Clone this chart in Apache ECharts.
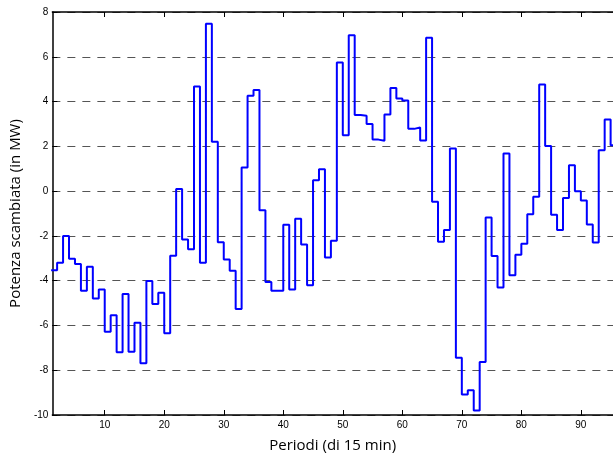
<!DOCTYPE html>
<html>
<head>
<meta charset="utf-8">
<script src="https://cdn.jsdelivr.net/npm/echarts@6/dist/echarts.min.js"></script>
<style>
html,body{margin:0;padding:0;background:#fff;}
#chart{width:613px;height:458px;}
</style>
</head>
<body>
<div id="chart"></div>
<script>
// Potenza scambiata per periodo (step i covers [i, i+1])
const periods = [1,2,3,4,5,6,7,8,9,10,11,12,13,14,15,16,17,18,19,20,21,22,23,24,25,26,27,28,29,30,31,32,33,34,35,36,37,38,39,40,41,42,43,44,45,46,47,48,49,50,51,52,53,54,55,56,57,58,59,60,61,62,63,64,65,66,67,68,69,70,71,72,73,74,75,76,77,78,79,80,81,82,83,84,85,86,87,88,89,90,91,92,93,94,95];
const power = [-3.53,-3.2,-2.0,-3.02,-3.26,-4.45,-3.38,-4.8,-4.39,-6.28,
  -5.55,-7.2,-4.6,-7.17,-5.88,-7.69,-4.02,-5.04,-4.54,-6.35,
  -2.89,0.09,-2.16,-2.6,4.67,-3.2,7.47,2.2,-2.28,-3.05,
  -3.56,-5.27,1.06,4.26,4.52,-0.85,-4.06,-4.45,-4.45,-1.5,
  -4.4,-1.24,-2.38,-4.21,0.48,0.98,-2.96,-2.22,5.74,2.49,
  6.96,3.4,3.37,3.0,2.3,2.25,3.42,4.6,4.14,4.05,
  2.78,2.84,2.26,6.85,-0.48,-2.26,-1.74,1.9,-7.44,-9.08,
  -8.9,-9.8,-7.63,-1.18,-2.9,-4.3,1.68,-3.76,-2.84,-2.35,
  -1.03,-0.25,4.76,2.02,-1.06,-1.74,-0.31,1.16,-0.01,-0.42,
  -1.49,-2.29,1.83,3.2,2.05];
const xTicks = [10,20,30,40,50,60,70,80,90];
const yMin = -10, yMax = 8, yStep = 2;
const xMin = 1.2, xMax = 95.4;

const data = periods.map((p, i) => [p, power[i]]);
data.push([periods[periods.length - 1] + 1, power[power.length - 1]]);

const chart = echarts.init(document.getElementById('chart'));
const tickFont = {fontFamily: 'Liberation Sans', fontSize: 10, color: '#000'};
chart.setOption({
  animation: false,
  grid: {left: 50, right: 0, top: 12, bottom: 37},
  xAxis: [{
    type: 'value', min: xMin, max: xMax, position: 'bottom',
    axisLine: {show: true, onZero: false, lineStyle: {color: '#000', width: 1.5}},
    axisTick: {show: true, inside: true, length: 5, customValues: xTicks, lineStyle: {color: '#000'}},
    axisLabel: Object.assign({customValues: xTicks, margin: 5}, tickFont),
    splitLine: {show: false},
    name: 'Periodi (di 15 min)', nameLocation: 'middle', nameGap: 23,
    nameTextStyle: {fontFamily: 'Open Sans', fontSize: 15, color: '#000'}
  }, {
    type: 'value', min: xMin, max: xMax, position: 'top',
    axisLine: {show: true, onZero: false, lineStyle: {color: '#000', width: 1.5}},
    axisTick: {show: true, inside: true, length: 5, customValues: xTicks, lineStyle: {color: '#000'}},
    axisLabel: {show: false},
    splitLine: {show: false}
  }],
  yAxis: {
    type: 'value', min: yMin, max: yMax, interval: yStep,
    axisLine: {show: true, onZero: false, lineStyle: {color: '#000', width: 1.5}},
    axisTick: {show: true, inside: true, length: 5, lineStyle: {color: '#000'}},
    axisLabel: Object.assign({margin: 4}, tickFont),
    splitLine: {show: true, lineStyle: {color: '#555', width: 1.2, type: [8, 7]}},
    name: 'Potenza scambiata (in MW)', nameLocation: 'middle', nameGap: 27, nameRotate: 90,
    nameTextStyle: {fontFamily: 'Open Sans', fontSize: 15, color: '#000'}
  },
  series: [{
    type: 'line', step: 'end', data: data, xAxisIndex: 0,
    showSymbol: false, symbol: 'none',
    lineStyle: {color: '#0000ff', width: 2}
  }]
});
</script>
</body>
</html>
